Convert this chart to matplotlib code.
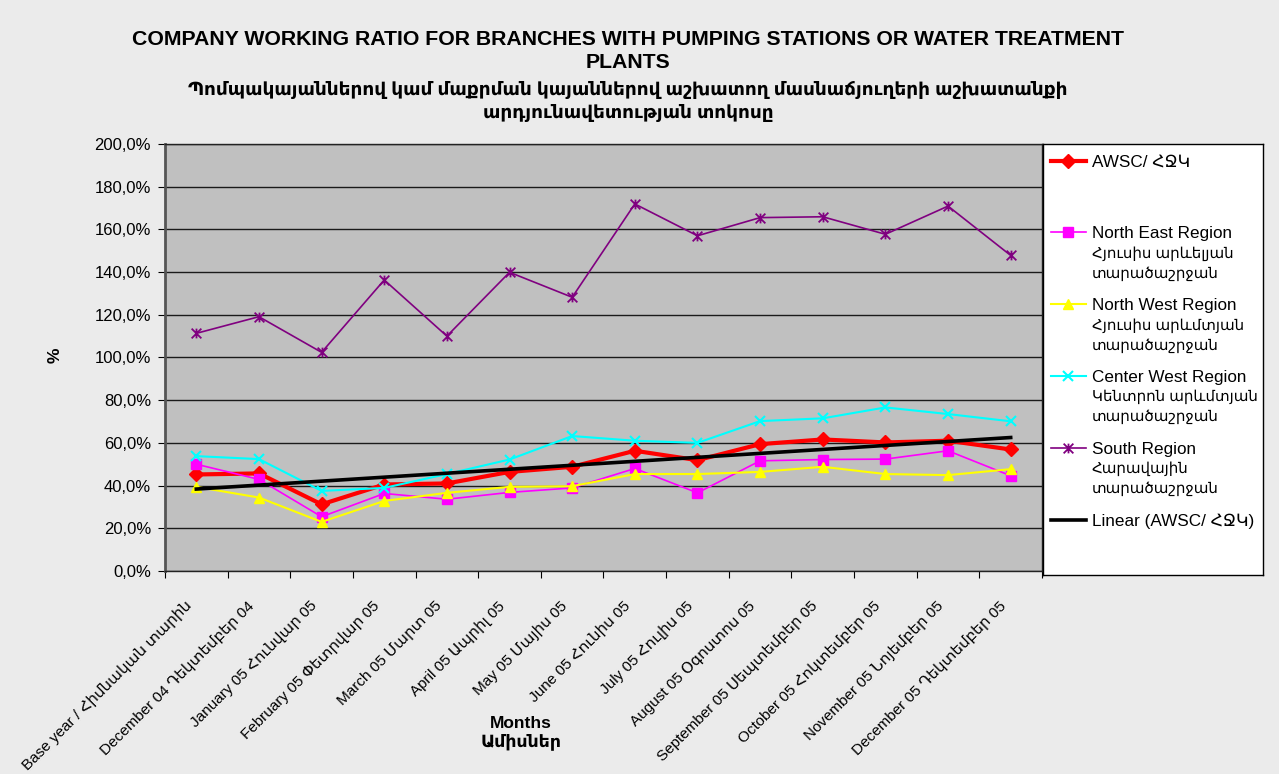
import numpy as np
import matplotlib.pyplot as plt
from matplotlib.path import Path
from matplotlib.transforms import ScaledTranslation

plt.rcParams['font.family'] = ['Liberation Sans', 'DejaVu Sans']

# category labels (x axis)
months = ["Base year / Հիմնական տարին", "December 04 Դեկտեմբեր 04",
          "January 05 Հունվար 05", "February 05 Փետրվար 05",
          "March 05 Մարտ 05", "April 05 Ապրիլ 05", "May 05 Մայիս 05",
          "June 05 Հունիս 05", "July 05 Հուլիս 05", "August 05 Օգոստոս 05",
          "September 05 Սեպտեմբեր 05", "October 05 Հոկտեմբեր 05",
          "November 05 Նոյեմբեր 05", "December 05 Դեկտեմբեր 05"]

# working ratio, %
awsc = [45.2, 45.7, 31.2, 40.5, 41.0, 46.4, 48.8, 56.3, 51.9, 59.4, 61.6, 60.2, 61.0, 56.9]
north_east = [50.0, 42.9, 25.4, 36.3, 33.6, 36.8, 38.9, 48.0, 36.6, 51.6, 52.2, 52.4, 56.3, 44.6]
north_west = [39.4, 34.4, 23.0, 32.8, 36.6, 39.4, 39.7, 45.4, 45.4, 46.4, 48.8, 45.4, 44.9, 47.7]
center_west = [53.8, 52.4, 37.5, 38.9, 45.4, 52.2, 63.2, 61.0, 60.0, 70.2, 71.5, 76.6, 73.5, 70.1]
south = [111.3, 119.1, 102.4, 136.3, 110.0, 139.9, 128.2, 171.9, 157.0, 165.5, 165.9, 157.7, 170.9, 147.8]

heads = ["AWSC/ ՀՋԿ", "North East Region", "North West Region",
         "Center West Region", "South Region", "Linear (AWSC/ ՀՋԿ)"]
tails = ["", "Հյուսիս արևելյան\nտարածաշրջան", "Հյուսիս արևմտյան\nտարածաշրջան",
         "Կենտրոն արևմտյան\nտարածաշրջան", "Հարավային\nտարածաշրջան", ""]

x = np.arange(len(months))
trend = np.polyval(np.polyfit(x, awsc, 1), x)  # excel linear trendline

star = Path([(0, -1), (0, 1), (-1, -1), (1, 1), (-1, 1), (1, -1)],
            [Path.MOVETO, Path.LINETO] * 3)

fig = plt.figure(figsize=(12.79, 7.74), dpi=100, facecolor='#ebebeb')
ax = fig.add_axes([0.129, 0.2623, 0.6857, 0.5517])
ax.set_facecolor('#c0c0c0')

h1, = ax.plot(x, awsc, color='#ff0000', lw=3, marker='D', ms=7.5)
h2, = ax.plot(x, north_east, color='#ff00ff', lw=1.2, marker='s', ms=7)
h3, = ax.plot(x, north_west, color='#ffff00', lw=1.5, marker='^', ms=7.5)
h4, = ax.plot(x, center_west, color='#00ffff', lw=1.5, marker='x', ms=7.5, mew=1.5)
h5, = ax.plot(x, south, color='#800080', lw=1.2, marker=star, ms=7, mew=1.3)
h6, = ax.plot(x, trend, color='black', lw=2.6)

ax.set_xlim(-0.5, 13.5)
ax.set_ylim(0, 200)
yt = np.arange(0, 201, 20)
ax.set_yticks(yt)
ax.set_yticklabels([f'{v:.1f}%'.replace('.', ',') for v in yt], fontsize=12)
ax.yaxis.grid(True, color='#1a1a1a', lw=1)
ax.set_axisbelow(True)
ax.tick_params(axis='y', length=5, pad=5)

ax.set_xticks(np.arange(-0.5, 14, 1))
ax.set_xticklabels([])
ax.set_xticks(x, minor=True)
ax.set_xticklabels(months, minor=True, rotation=45, ha='right', va='center',
                   rotation_mode='anchor', fontsize=11.0)
ax.tick_params(axis='x', which='minor', length=0, pad=22)
ax.tick_params(axis='x', which='major', length=5)
shift = ScaledTranslation(-0.07, -0.02, fig.dpi_scale_trans)
for lab in ax.get_xticklabels(minor=True):
    lab.set_transform(lab.get_transform() + shift)

for s in ax.spines.values():
    s.set_color('#222222')
    s.set_linewidth(1)
ax.spines['left'].set_color('#555555')
ax.spines['left'].set_linewidth(2)

# legend panel
lax = fig.add_axes([0.8155, 0.2571, 0.172, 0.5568])
lax.set_facecolor('white')
lax.set_xticks([])
lax.set_yticks([])
for s in lax.spines.values():
    s.set_color('black')
    s.set_linewidth(1)
leg = lax.legend([h1, h2, h3, h4, h5, h6], heads, loc='upper left',
                 bbox_to_anchor=(0, 0.993), frameon=False,
                 fontsize=12.3, labelspacing=3.32, handlelength=2.05,
                 handletextpad=0.35, borderpad=0.45, borderaxespad=0)
for t, extra in zip(leg.get_texts(), tails):
    if extra:
        lax.annotate(extra, xy=(0, 0), xycoords=t, xytext=(0, -5),
                     textcoords='offset pixels', va='top', ha='left',
                     fontsize=10.8, linespacing=1.48, zorder=10)

fig.text(0.491, 1 - 51 / 774,
         "COMPANY WORKING RATIO FOR BRANCHES WITH PUMPING STATIONS OR WATER TREATMENT\n"
         "PLANTS",
         ha='center', va='center', fontsize=15.3, weight='bold', linespacing=1.3)
fig.text(0.491, 1 - 101.5 / 774,
         "Պոմպակայաններով կամ մաքրման կայաններով աշխատող մասնաճյուղերի աշխատանքի\n"
         "արդյունավետության տոկոսը",
         ha='center', va='center', fontsize=13.3, weight='bold', linespacing=1.42)
fig.text(55 / 1279, 1 - 355 / 774, '%', rotation=90, ha='center', va='center',
         fontsize=12.5, weight='bold')
fig.text(521 / 1279, 1 - 733 / 774, "Months\nԱմիսներ", ha='center', va='center',
         fontsize=12.5, weight='bold', linespacing=1.1)

fig.savefig('out.png', dpi=100, facecolor=fig.get_facecolor())
